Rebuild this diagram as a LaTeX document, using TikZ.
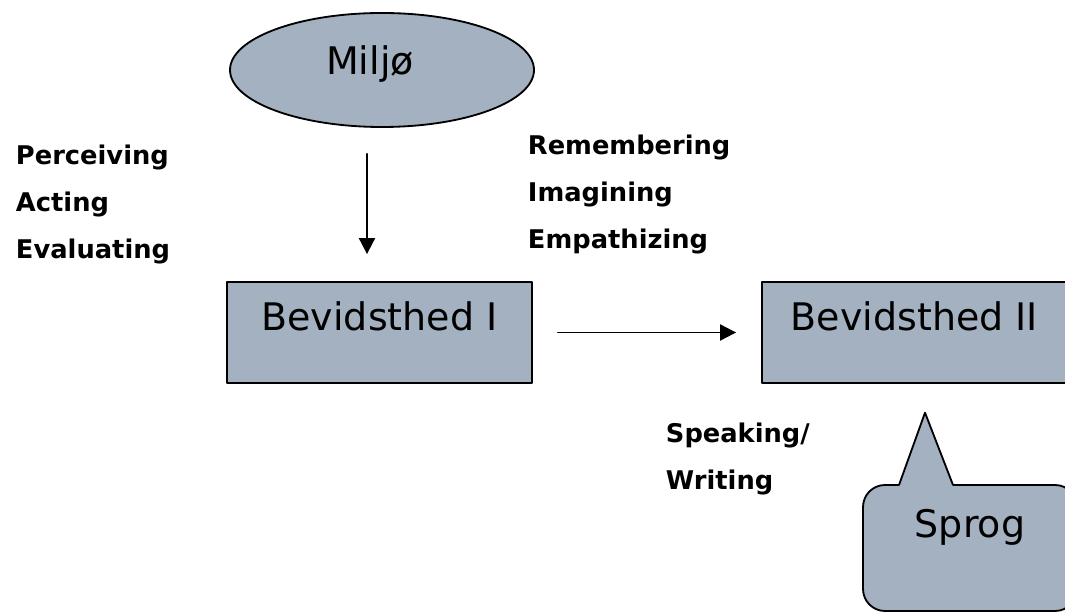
\documentclass[tikz,border=0pt]{standalone}
\usepackage{fontspec}
\setmainfont{DejaVu Sans}
\usepackage{xcolor}
\usetikzlibrary{arrows.meta,shapes.geometric}
\definecolor{slate}{RGB}{163,177,192}
\tikzset{
  every picture/.style={line join=round, line cap=round, >={Triangle[length=0.4cm,width=0.4cm]}},
  shapetext/.style={font=\fontsize{27}{32}\selectfont, inner sep=0pt, fill=slate, draw=black, line width=1.3pt},
  bevbox/.style={shapetext, rectangle, minimum width=7.625cm, minimum height=2.525cm, text height=0.7cm, text depth=0.8cm},
  lbl/.style={font=\fontsize{18.3}{22}\selectfont\bfseries, anchor=base west, inner sep=0pt},
}

\begin{document}
\begin{tikzpicture}[line width=1.4pt]
\useasboundingbox (0,0) rectangle (26.625,15.3);
% shapes
\node[shapetext, ellipse, minimum width=7.6cm, minimum height=2.85cm, text height=0.7cm, text depth=0.45cm] (miljo) at (9.55,13.55) {Miljø\hspace*{0.6cm}};
\node[bevbox] (bev1) at (9.4875,6.9875) {Bevidsthed I};
\node[bevbox] (bev2) at (22.8625,6.9875) {Bevidsthed II};
\node[shapetext, rectangle, rounded corners=0.55cm, minimum width=5.35cm, minimum height=3.15cm, text height=0.7cm, text depth=1.25cm] (sprog) at (24.25,1.6) {Sprog};
% speech bubble pointer
\coordinate (tip) at (23.125,4.9825);
\coordinate (pl) at (22.475,3.175);
\coordinate (pr) at (23.825,3.175);
\fill[slate] (pl) -- (tip) -- (pr) -- ([yshift=-1.8pt]pr) -- ([yshift=-1.8pt]pl) -- cycle;
\draw[line width=1.3pt] (pl) -- (tip) -- (pr);
% arrows
\draw[->,shorten <=0.65cm,shorten >=0.675cm] ([xshift=-0.375cm]miljo.south) -- ([xshift=-0.375cm]miljo.south |- bev1.north);
\draw[->,shorten <=0.625cm,shorten >=0.625cm] (bev1.east) -- (bev2.west);
% labels
\node[lbl] (perc) at (0.375,11.175) {Perceiving};
\node[lbl] (act) at (0.375,10.0) {Acting};
\node[lbl] (eval) at (0.375,8.825) {Evaluating};
\node[lbl] (rem) at (13.175,11.425) {Remembering};
\node[lbl] (imag) at (13.175,10.25) {Imagining};
\node[lbl] (emp) at (13.175,9.075) {Empathizing};
\node[lbl] (speak) at (16.625,4.225) {Speaking/};
\node[lbl] (writ) at (16.625,3.05) {Writing};
\end{tikzpicture}
\end{document}
